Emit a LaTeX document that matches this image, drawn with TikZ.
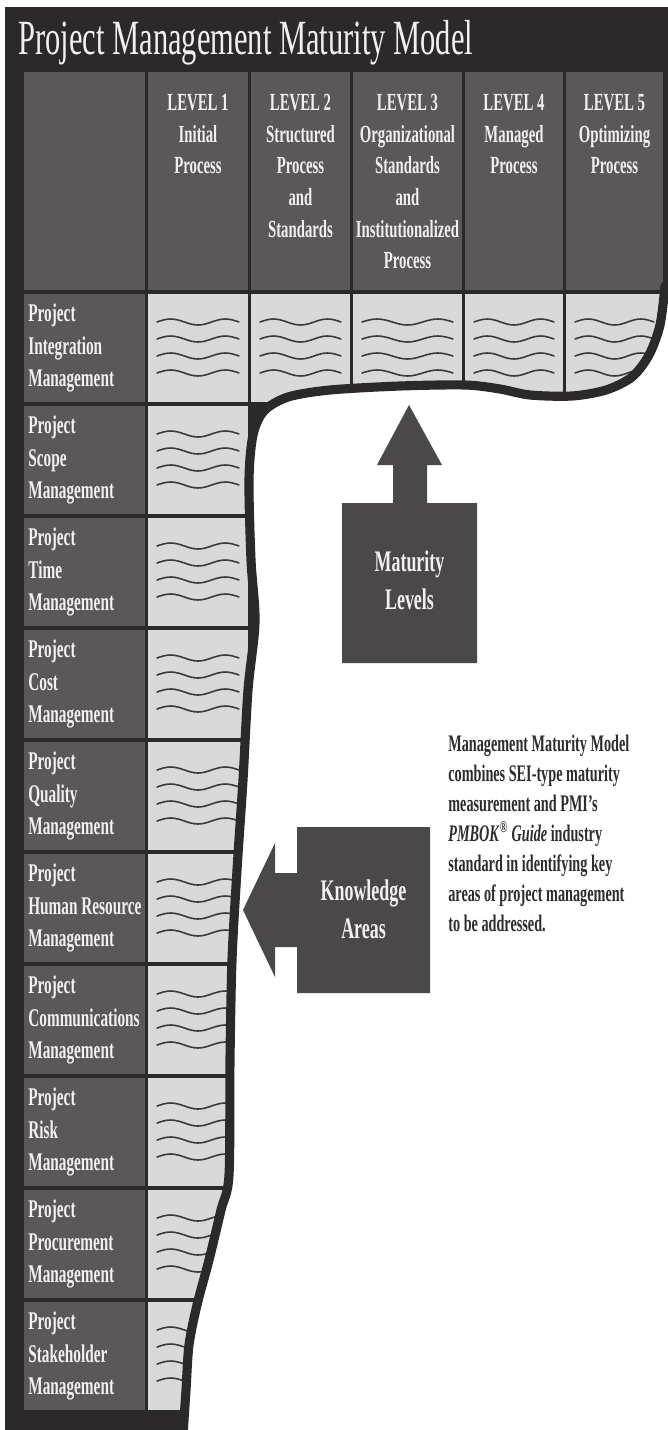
\documentclass[tikz,border=0pt]{standalone}
\usepackage{fontspec}
\setmainfont{Liberation Serif}
\newfontfamily\figCond[FakeStretch=0.6]{Liberation Serif}
\newfontfamily\figTitle[FakeStretch=0.62]{Liberation Serif}
\definecolor{figFrame}{HTML}{2B2929}
\definecolor{figCell}{HTML}{5A5859}
\definecolor{figPaper}{HTML}{D9D9D9}
\definecolor{figWave}{HTML}{3A3A3A}
\definecolor{figSign}{HTML}{4A4848}
\definecolor{figLight}{HTML}{F2F0F0}
\definecolor{figInk}{HTML}{2E2C2C}
% four wavy strokes standing in for text: #1 cell left, #2 cell right, #3 row top
\newcommand{\figScribble}[3]{%
  \foreach \j in {0,...,3}
    \draw[wave] plot[domain=0:1,samples=25,smooth] ({#1+9+(#2-#1-18)*\x},{#3+28+17*\j-3*sin(540*\x)});
}

\begin{document}
\begin{tikzpicture}[x=0.02cm,y=-0.02cm,
    wave/.style={figWave,line width=0.9pt,line cap=round},
    rim/.style={figFrame,line width=5.2pt,line cap=round,line join=round},
    cell/.style={fill=figCell},
    paper/.style={fill=figPaper},
    headtext/.style={text=figLight,font=\figCond\bfseries\fontsize{14}{18}\selectfont,align=center,inner sep=0pt,anchor=north},
    areatext/.style={text=figLight,font=\figCond\bfseries\fontsize{14.5}{18.7}\selectfont,align=left,inner sep=0pt,anchor=west},
    signtext/.style={text=figLight,font=\figCond\bfseries\fontsize{17}{21.5}\selectfont,align=center,inner sep=0pt},
    notetext/.style={text=figInk,font=\figCond\bfseries\fontsize{13.5}{17}\selectfont,align=left,inner sep=0pt,anchor=north west}]
    % page
    \useasboundingbox (0,0) rectangle (668,1430);
    \fill[white] (0,0) rectangle (668,1430);
    % the rim that bounds the filled part of the matrix
    \coordinate (r1) at (665,286);
    \coordinate (r2) at (660,325);
    \coordinate (r3) at (649,355);
    \coordinate (r4) at (632,377);
    \coordinate (r5) at (606,390);
    \coordinate (r6) at (572,396);
    \coordinate (r7) at (530,395);
    \coordinate (r8) at (500,389);
    \coordinate (r9) at (465,385);
    \coordinate (r10) at (400,386);
    \coordinate (r11) at (330,390);
    \coordinate (r12) at (288,397);
    \coordinate (r13) at (264,411);
    \coordinate (r14) at (253,435);
    \coordinate (r15) at (249,480);
    \coordinate (r16) at (251,560);
    \coordinate (r17) at (255,622);
    \coordinate (r18) at (248,690);
    \coordinate (r19) at (243,780);
    \coordinate (r20) at (237,870);
    \coordinate (r21) at (232,960);
    \coordinate (r22) at (230,1060);
    \coordinate (r23) at (229,1175);
    \coordinate (r24) at (221,1210);
    \coordinate (r25) at (209,1260);
    \coordinate (r26) at (197,1305);
    \coordinate (r27) at (189,1345);
    \coordinate (r28) at (186,1390);
    \coordinate (r29) at (183,1435);
    \begin{scope}
        \clip (5,7) -- (668,7) -- (668,286) -- plot[smooth,tension=0.5] coordinates {(r1) (r2) (r3) (r4) (r5) (r6) (r7) (r8) (r9) (r10) (r11) (r12) (r13) (r14) (r15) (r16) (r17) (r18) (r19) (r20) (r21) (r22) (r23) (r24) (r25) (r26) (r27) (r28) (r29)} -- (5,1435) -- cycle;
        \fill[figFrame] (0,0) rectangle (668,1435);
        % header row
        \fill[cell] (24,72) rectangle (145,290);
        \foreach \xa/\xb/\lvl/\txt in {148/248/1/{Initial\\Process},
                251/350/2/{Structured\\Process\\and\\Standards},
                353/462/3/{Organizational\\Standards\\and\\Institutionalized\\Process},
                465/563/4/{Managed\\Process},
                566/663/5/{Optimizing\\Process}} {
            \fill[cell] (\xa,72) rectangle (\xb,290);
            \node[headtext] (lvl\lvl) at ({(\xa+\xb)/2},94) {LEVEL \lvl\\\txt};
        }
        % knowledge areas, one row each
        \foreach \area [count=\k from 0] in {Integration,Scope,Time,Cost,Quality,Human Resource,Communications,Risk,Procurement,Stakeholder} {
            \pgfmathsetmacro\rtop{294+112*\k}
            \fill[cell] (24,\rtop) rectangle (145,\rtop+108);
            \fill[paper] (148,\rtop) rectangle (248,\rtop+108);
            \figScribble{148}{248}{\rtop}
            \node[areatext] (area\k) at (28,\rtop+54) {Project\\\area\\Management};
        }
        % integration reaches every level
        \foreach \xa/\xb in {251/350,353/462,465/563,566/663} {
            \fill[paper] (\xa,294) rectangle (\xb,402);
            \figScribble{\xa}{\xb}{294}
        }
    \end{scope}
    \draw[rim] (668,286) -- plot[smooth,tension=0.5] coordinates {(r1) (r2) (r3) (r4) (r5) (r6) (r7) (r8) (r9) (r10) (r11) (r12) (r13) (r14) (r15) (r16) (r17) (r18) (r19) (r20) (r21) (r22) (r23) (r24) (r25) (r26) (r27) (r28) (r29)};
    % title
    \node[anchor=base west,inner sep=0pt,text=figLight,font=\figTitle\fontsize{28}{32}\selectfont] (title) at (18,54) {Project Management Maturity Model};
    % maturity levels sign, pointing up
    \fill[figSign] (342,663) -- (342,503) -- (393,503) -- (393,465) -- (377,465) -- (409,405) -- (442,465) -- (427,465) -- (427,503) -- (477,503) -- (477,663) -- cycle;
    \node[signtext] (maturity) at (409.5,580) {Maturity\\Levels};
    % knowledge areas sign, pointing left
    \fill[figSign] (430,827) -- (297,827) -- (297,873) -- (275,873) -- (275,843) -- (243,910) -- (275,977) -- (275,947) -- (297,947) -- (297,993) -- (430,993) -- cycle;
    \node[signtext] (knowledge) at (363.5,909) {Knowledge\\Areas};
    % caption beside the signs
    \node[notetext] (note) at (448,735) {Management Maturity Model\\combines SEI-type maturity\\measurement and PMI’s\\\textit{PMBOK}\textsuperscript{®} \textit{Guide} industry\\standard in identifying key\\areas of project management\\to be addressed.};
\end{tikzpicture}
\end{document}
